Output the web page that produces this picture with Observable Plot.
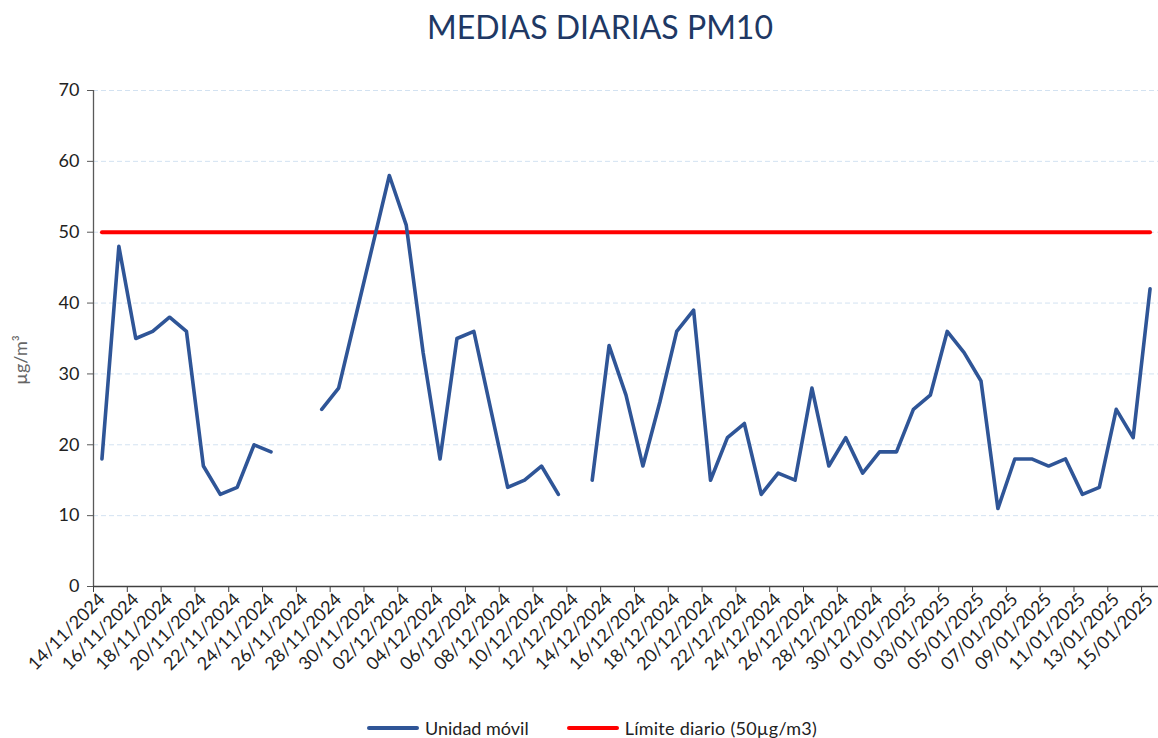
<!DOCTYPE html>
<html>
<head>
<meta charset="utf-8">
<script src="https://cdn.jsdelivr.net/npm/d3@7"></script>
<script src="https://cdn.jsdelivr.net/npm/@observablehq/plot@0.6"></script>
<style>
  html, body { margin: 0; padding: 0; background: #fff; }
  body { width: 1158px; height: 738px; position: relative; overflow: hidden; font-family: Lato, "Open Sans", sans-serif; }
  #title { position: absolute; left: 21px; top: 0; width: 1158px; height: 60px; text-align: center; line-height: 54px; font-size: 32px; color: #203864; }
  #chart { position: absolute; left: 0; top: 60px; }
  #ylabel { position: absolute; left: 20px; top: 360px; transform: translate(-50%, -50%) rotate(-90deg); font-size: 18px; color: #666; white-space: nowrap; }
  #legend { position: absolute; left: 367px; top: 714px; height: 28px; display: flex; align-items: center; font-size: 18px; color: #222; }
  .sw { display: inline-block; width: 52px; height: 4px; border-radius: 2px; margin-right: 6px; }
  .item { display: flex; align-items: center; margin-right: 38px; }
</style>
</head>
<body>
<div id="title">MEDIAS DIARIAS PM10</div>
<div id="chart"></div>
<div id="ylabel">µg/m³</div>
<div id="legend">
  <div class="item"><span class="sw" style="background:#2f5597"></span><span>Unidad móvil</span></div>
  <div class="item"><span class="sw" style="background:#ff0000"></span><span style="letter-spacing:0.25px">Límite diario (50µg/m3)</span></div>
</div>
<script>
const dates = [
  "14/11/2024","15/11/2024","16/11/2024","17/11/2024","18/11/2024","19/11/2024","20/11/2024","21/11/2024",
  "22/11/2024","23/11/2024","24/11/2024","25/11/2024","26/11/2024","27/11/2024","28/11/2024","29/11/2024",
  "30/11/2024","01/12/2024","02/12/2024","03/12/2024","04/12/2024","05/12/2024","06/12/2024","07/12/2024",
  "08/12/2024","09/12/2024","10/12/2024","11/12/2024","12/12/2024","13/12/2024","14/12/2024","15/12/2024",
  "16/12/2024","17/12/2024","18/12/2024","19/12/2024","20/12/2024","21/12/2024","22/12/2024","23/12/2024",
  "24/12/2024","25/12/2024","26/12/2024","27/12/2024","28/12/2024","29/12/2024","30/12/2024","31/12/2024",
  "01/01/2025","02/01/2025","03/01/2025","04/01/2025","05/01/2025","06/01/2025","07/01/2025","08/01/2025",
  "09/01/2025","10/01/2025","11/01/2025","12/01/2025","13/01/2025","14/01/2025","15/01/2025"
];
const unidadMovil = [
  18,48,35,36,38,36,17,13,14,20,19,null,null,25,28,38,
  48,58,51,33,18,35,36,25,14,15,17,13,null,15,34,27,
  17,26,36,39,15,21,23,13,16,15,28,17,21,16,19,19,
  25,27,36,33,29,11,18,18,17,18,13,14,25,21,42
];
const limiteDiario = 50;
const yTicks = [0,10,20,30,40,50,60,70];

const data = dates.map((d, i) => ({ date: d, pos: i + 0.5, value: unidadMovil[i], limit: limiteDiario }));
const boundaryTicks = dates.map((d, i) => i).filter(i => i % 2 === 0);
const labelTicks = boundaryTicks.map(i => i + 0.5);

const chart = Plot.plot({
  width: 1158,
  height: 636,
  marginLeft: 93,
  marginRight: 0,
  marginTop: 30,
  marginBottom: 110,
  style: { fontFamily: "Lato, sans-serif", color: "#222", background: "white" },
  x: { type: "linear", domain: [0, dates.length], axis: null },
  y: { domain: [0, 70], axis: null },
  marks: [
    Plot.ruleY(yTicks.filter(v => v > 0), { stroke: "#d3e2f1", strokeDasharray: "5,3", strokeWidth: 1 }),
    Plot.axisY({ ticks: yTicks, tickSize: 6, tickPadding: 8, fontSize: 18, label: null, stroke: "#595959" }),
    Plot.axisX({ ticks: boundaryTicks, tickSize: 6, tickFormat: () => "", label: null, stroke: "#404040" }),
    Plot.axisX({ ticks: labelTicks, tickSize: 0, tickPadding: 10, tickRotate: -45, fontSize: 18, label: null,
                 tickFormat: v => dates[Math.round(v - 0.5)] }),
    Plot.ruleX([0], { stroke: "#595959", strokeWidth: 1.3 }),
    Plot.ruleY([0], { stroke: "#404040", strokeWidth: 1.3 }),
    Plot.lineY(data, { x: "pos", y: "limit", stroke: "#ff0000", strokeWidth: 4, strokeLinecap: "round" }),
    Plot.lineY(data, { x: "pos", y: "value", stroke: "#2f5597", strokeWidth: 3.6, strokeLinejoin: "round", strokeLinecap: "round" })
  ]
});
document.getElementById("chart").appendChild(chart);
</script>
</body>
</html>
